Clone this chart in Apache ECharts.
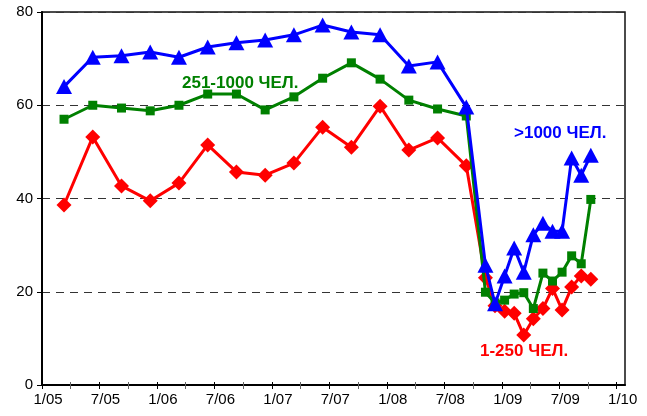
<!DOCTYPE html>
<html>
<head>
<meta charset="utf-8">
<script src="https://cdn.jsdelivr.net/npm/echarts@6/dist/echarts.min.js"></script>
<style>html,body{margin:0;padding:0;background:#fff}#c{width:647px;height:416px}</style>
</head>
<body>
<div id="c"></div>
<script>
// Observation dates (quarterly, then monthly)
const dates = [
  '2005-03-10','2005-06-10','2005-09-10','2005-12-10',
  '2006-03-10','2006-06-10','2006-09-10','2006-12-10',
  '2007-03-10','2007-06-10','2007-09-10','2007-12-10',
  '2008-03-10','2008-06-10','2008-09-10',
  '2008-11-10','2008-12-10','2009-01-10','2009-02-10','2009-03-10','2009-04-10',
  '2009-05-10','2009-06-10','2009-07-10','2009-08-10','2009-09-10','2009-10-10'
];
const seriesNames = ['1-250 ЧЕЛ.', '251-1000 ЧЕЛ.', '>1000 ЧЕЛ.'];
const small = [38.6, 53.2, 42.7, 39.5, 43.3, 51.5, 45.7, 45.0, 47.6, 55.3, 51.0, 59.8, 50.4, 53.0, 47.0,
               23.0, 17.0, 15.8, 15.4, 10.7, 14.2, 16.4, 20.7, 16.1, 21.0, 23.4, 22.7];
const medium = [57.0, 60.0, 59.4, 58.8, 60.0, 62.4, 62.4, 59.0, 61.8, 65.8, 69.1, 65.6, 61.1, 59.2, 57.7,
                19.9, 17.6, 18.2, 19.5, 19.8, 16.4, 24.0, 22.3, 24.2, 27.7, 26.0, 39.8];
const large = [64.0, 70.3, 70.6, 71.4, 70.3, 72.5, 73.4, 74.0, 75.1, 77.2, 75.7, 75.1, 68.4, 69.3, 59.6,
               25.7, 17.4, 23.4, 29.4, 24.2, 32.2, 34.7, 33.0, 33.0, 48.7, 45.0, 49.3];
const xTickLabels = ['1/05','7/05','1/06','7/06','1/07','7/07','1/08','7/08','1/09','7/09','1/10'];
const yTicks = [0, 20, 40, 60, 80];

// months elapsed since 1 Jan 2005
function monthsSince2005(s) {
  const p = s.split('-').map(Number);
  return (p[0] - 2005) * 12 + (p[1] - 1) + (p[2] - 1) / 30;
}
const xs = dates.map(monthsSince2005);
const pairs = arr => arr.map((v, i) => [xs[i], v]);

const chart = echarts.init(document.getElementById('c'), null, {renderer: 'canvas'});
const FONT = 'Liberation Sans, Arial, sans-serif';
const gridTop = 12, gridBottom = 31, gridLeft = 42;

chart.setOption({
  animation: false,
  backgroundColor: '#fff',
  grid: [
    {left: gridLeft, right: 22, top: gridTop, bottom: gridBottom, show: true, borderColor: '#111', borderWidth: 1.5, backgroundColor: 'transparent'},
    {left: gridLeft, right: 30.3, top: gridTop, bottom: gridBottom}
  ],
  xAxis: [
    {type: 'value', gridIndex: 0, min: 0, max: 60.87,
     axisLine: {show: true, lineStyle: {color: '#000', width: 2}},
     axisTick: {show: false}, axisLabel: {show: false}, splitLine: {show: false}},
    {type: 'value', gridIndex: 1, min: 0, max: 60, interval: 6,
     axisLine: {show: false},
     axisTick: {show: true, length: 4, lineStyle: {color: '#000', width: 1}},
     minorTick: {show: true, splitNumber: 2, length: 4, lineStyle: {color: '#666', width: 1}},
     splitLine: {show: false},
     axisLabel: {show: true, margin: 7, fontSize: 15, color: '#000', fontFamily: FONT,
                 padding: [0, 0, 0, 12],
                 formatter: v => xTickLabels[Math.round(v / 6)] || ''}},
    {type: 'value', gridIndex: 1, min: 0, max: 60, interval: 6, position: 'bottom',
     axisLine: {show: false},
     axisTick: {show: true, inside: true, length: 3, lineStyle: {color: '#000', width: 1}},
     minorTick: {show: true, splitNumber: 2, length: 3, lineStyle: {color: '#666', width: 1}},
     splitLine: {show: false}, axisLabel: {show: false}}
  ],
  yAxis: [
    {type: 'value', gridIndex: 0, min: yTicks[0], max: yTicks[yTicks.length - 1], interval: 20,
     axisLine: {show: true, lineStyle: {color: '#000', width: 2}},
     axisTick: {show: true, length: 5, lineStyle: {color: '#000', width: 1}},
     axisLabel: {margin: 9, fontSize: 15, color: '#000', fontFamily: FONT},
     splitLine: {show: true, lineStyle: {color: '#333', width: 1, type: [8, 6]}}},
    {type: 'value', gridIndex: 1, min: 0, max: 80, show: false, splitLine: {show: false}}
  ],
  series: [
    {name: seriesNames[0], type: 'line', xAxisIndex: 0, yAxisIndex: 0, data: pairs(small),
     symbol: 'diamond', symbolSize: 15, showAllSymbol: true, z: 2,
     lineStyle: {color: '#ff0000', width: 3}, itemStyle: {color: '#ff0000'}},
    {name: seriesNames[1], type: 'line', xAxisIndex: 0, yAxisIndex: 0, data: pairs(medium),
     symbol: 'rect', symbolSize: 9, showAllSymbol: true, z: 3,
     lineStyle: {color: '#008000', width: 3}, itemStyle: {color: '#008000'}},
    {name: seriesNames[2], type: 'line', xAxisIndex: 0, yAxisIndex: 0, data: pairs(large),
     symbol: 'triangle', symbolSize: [16, 15], showAllSymbol: true, z: 4,
     lineStyle: {color: '#0000ff', width: 3}, itemStyle: {color: '#0000ff'}}
  ],
  graphic: [
    {type: 'text', left: 182, top: 75, z: 10,
     style: {text: seriesNames[1], fill: '#008000', font: 'bold 17px ' + FONT}},
    {type: 'text', left: 514, top: 125, z: 10,
     style: {text: seriesNames[2], fill: '#0000ff', font: 'bold 17px ' + FONT}},
    {type: 'text', left: 480, top: 343, z: 10,
     style: {text: seriesNames[0], fill: '#ff0000', font: 'bold 17px ' + FONT}}
  ]
});
</script>
</body>
</html>
